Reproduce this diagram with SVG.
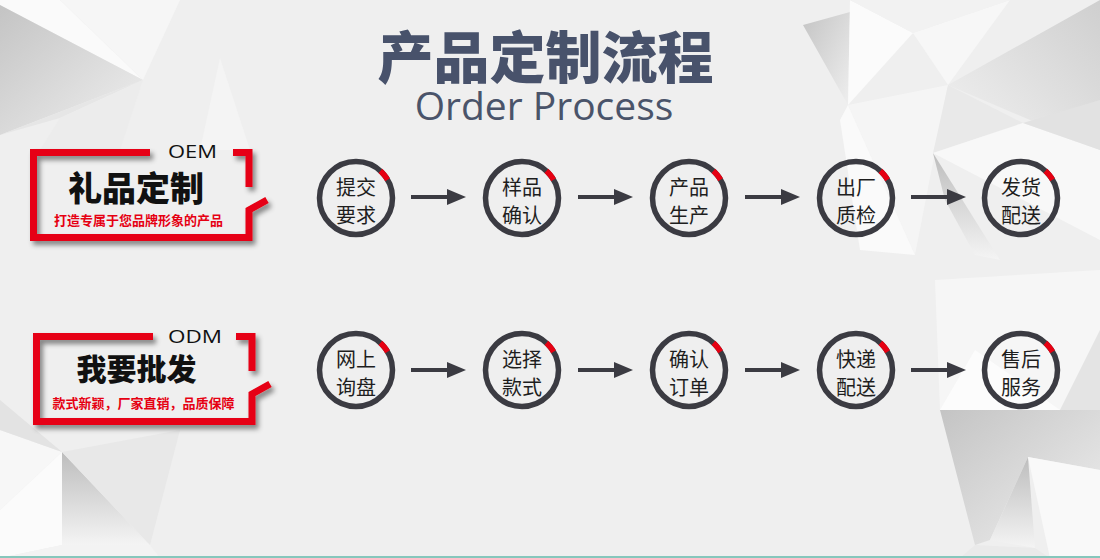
<svg xmlns="http://www.w3.org/2000/svg" width="1100" height="558" viewBox="0 0 1100 558">
<defs>
<style>
.ring{fill:none;stroke:#3b3b42;stroke-width:5.5}
.red{fill:none;stroke:#e60012;stroke-width:5.5}
.lbl{font-family:"Noto Sans CJK SC","Noto Sans",sans-serif;font-size:20px;fill:#1e1e1e;text-anchor:middle}
.frame{fill:none;stroke:#e60012;stroke-width:7;stroke-linejoin:miter}
.conn{stroke:#3b3b42;stroke-width:4;fill:none}
.sub{font-family:"Noto Sans CJK SC",sans-serif;font-size:13px;font-weight:700;fill:#e60012;text-anchor:middle}
.big{font-family:"Noto Sans CJK SC",sans-serif;font-weight:900;fill:#111;text-anchor:middle}
.tag{font-family:"Open Sans","Liberation Sans",sans-serif;fill:#111}
</style>
<marker id="ah" markerUnits="userSpaceOnUse" markerWidth="19" markerHeight="16" refX="7" refY="8" orient="auto">
<path d="M0,0 L19,8 L0,16 z" fill="#3b3b42"/>
</marker>
<filter id="sh" x="-10%" y="-10%" width="130%" height="140%">
<feDropShadow dx="3" dy="4" stdDeviation="2.5" flood-color="#000" flood-opacity="0.45"/>
</filter>
<linearGradient id="gd" x1="0" y1="0" x2="1" y2="1"><stop offset="0" stop-color="#c4c4c4"/><stop offset="1" stop-color="#efefef"/></linearGradient>
<linearGradient id="gd2" x1="1" y1="0" x2="0" y2="1"><stop offset="0" stop-color="#cfcfcf"/><stop offset="1" stop-color="#f2f2f2"/></linearGradient>
<linearGradient id="gv" x1="0" y1="0" x2="0" y2="1"><stop offset="0" stop-color="#bdbdbd"/><stop offset="1" stop-color="#f4f4f4"/></linearGradient>
<linearGradient id="gw" x1="0" y1="0" x2="1" y2="1"><stop offset="0" stop-color="#ffffff"/><stop offset="1" stop-color="#e8e8e8"/></linearGradient>
<path id="rarc" d="M24.4,-27.1 A36.5,36.5 0 0 1 31.6,-18.25"/>
</defs>

<g id="background">
<rect width="1100" height="558" fill="#efefef"/>
<!-- top-left -->
<polygon points="0,0 60,0 143,80 0,5" fill="#fafafa"/>
<polygon points="60,0 180,0 143,80" fill="#f6f6f6"/>
<polygon points="0,5 143,80 0,135" fill="url(#gd)"/>
<polygon points="0,135 143,80 60,118" fill="#e6e6e6"/>
<polygon points="60,118 143,80 120,150 40,150" fill="#ececec"/>
<polygon points="220,58 250,150 200,150" fill="#f4f4f4"/>
<!-- top-right -->
<polygon points="803,25 848,105 850,12" fill="url(#gd)"/>
<polygon points="850,0 913,33 848,105" fill="#fbfbfb"/>
<polygon points="913,33 1010,0 948,85" fill="#f7f7f7"/>
<polygon points="850,0 1010,0 913,33" fill="#f2f2f2"/>
<polygon points="948,85 1100,0 1100,150" fill="url(#gd2)"/>
<polygon points="848,105 948,85 915,255" fill="#f5f5f5"/>
<polygon points="948,85 1023,123 933,153" fill="#e9e9e9"/>
<polygon points="933,153 1023,123 1100,150 1100,240" fill="#f8f8f8"/>
<polygon points="933,153 1000,260 975,255 945,200" fill="url(#gv)"/>
<polygon points="1023,123 1100,150 1100,100" fill="#e2e2e2"/>
<polygon points="840,120 848,105 915,255 860,250" fill="#fafafa"/>
<!-- bottom-right -->
<polygon points="935,280 1100,270 1100,410 940,410" fill="#f6f6f6"/>
<polygon points="940,410 975,350 1060,410" fill="#fcfcfc"/>
<polygon points="1060,410 1100,330 1100,410" fill="#e4e4e4"/>
<polygon points="940,410 1100,410 1100,470 1028,457 990,540 975,545" fill="url(#gd)"/>
<polygon points="1028,457 990,540 1035,548" fill="url(#gv)"/>
<polygon points="1028,457 1100,470 1100,558 1050,558" fill="#f9f9f9"/>
<polygon points="975,545 1035,548 1050,558 960,558" fill="#eaeaea"/>
<!-- bottom-left -->
<polygon points="0,430 62,452 0,510" fill="#f7f7f7"/>
<polygon points="62,452 150,545 62,545" fill="url(#gv)"/>
<polygon points="62,452 0,510 0,558 62,545" fill="#fbfbfb"/>
<polygon points="62,452 180,430 150,545" fill="#e8e8e8"/>
<polygon points="62,545 150,545 160,558 0,558" fill="#f3f3f3"/>
<polygon points="0,400 62,452 0,430" fill="#e3e3e3"/>
<rect x="0" y="556" width="1100" height="2" fill="#86c7bc"/>
</g>

<g id="title">
<text x="545.5" y="78" font-family="'Noto Sans CJK SC',sans-serif" font-size="56" font-weight="900" fill="#48526b" text-anchor="middle">产品定制流程</text>
<text x="544" y="120" font-family="'Open Sans','Liberation Sans',sans-serif" font-size="39" fill="#4a546a" text-anchor="middle">Order Process</text>
</g>

<g id="oem">
<g filter="url(#sh)">
<path class="frame" d="M150,152.5 H33.5 V237.5 H249 V210 L267,200"/>
<path class="frame" d="M233,152.5 H249 V187"/>
</g>
<text class="tag" x="168" y="158" font-size="18" textLength="49" lengthAdjust="spacingAndGlyphs">OEM</text>
<text class="big" x="136" y="201" font-size="34">礼品定制</text>
<text class="sub" x="138.5" y="225">打造专属于您品牌形象的产品</text>
</g>

<g id="odm">
<g filter="url(#sh)" transform="translate(3,184)">
<path class="frame" d="M150,152.5 H33.5 V237.5 H249 V210 L267,200"/>
<path class="frame" d="M233,152.5 H249 V187"/>
</g>
<text class="tag" x="168" y="343" font-size="19" textLength="54" lengthAdjust="spacingAndGlyphs">ODM</text>
<text class="big" x="136.5" y="380" font-size="30">我要批发</text>
<text class="sub" x="143.5" y="408">款式新颖，厂家直销，品质保障</text>
</g>

<g id="n1" transform="translate(356,198)"><circle class="ring" r="36.5"/><use href="#rarc" class="red"/><text class="lbl" y="-3">提交</text><text class="lbl" y="25">要求</text></g>
<g id="n2" transform="translate(522,198)"><circle class="ring" r="36.5"/><use href="#rarc" class="red"/><text class="lbl" y="-3">样品</text><text class="lbl" y="25">确认</text></g>
<g id="n3" transform="translate(689,198)"><circle class="ring" r="36.5"/><use href="#rarc" class="red"/><text class="lbl" y="-3">产品</text><text class="lbl" y="25">生产</text></g>
<g id="n4" transform="translate(856,198)"><circle class="ring" r="36.5"/><use href="#rarc" class="red"/><text class="lbl" y="-3">出厂</text><text class="lbl" y="25">质检</text></g>
<g id="n5" transform="translate(1021,198)"><circle class="ring" r="36.5"/><use href="#rarc" class="red"/><text class="lbl" y="-3">发货</text><text class="lbl" y="25">配送</text></g>

<g id="m1" transform="translate(356,370)"><circle class="ring" r="36.5"/><use href="#rarc" class="red"/><text class="lbl" y="-3">网上</text><text class="lbl" y="25">询盘</text></g>
<g id="m2" transform="translate(522,370)"><circle class="ring" r="36.5"/><use href="#rarc" class="red"/><text class="lbl" y="-3">选择</text><text class="lbl" y="25">款式</text></g>
<g id="m3" transform="translate(689,370)"><circle class="ring" r="36.5"/><use href="#rarc" class="red"/><text class="lbl" y="-3">确认</text><text class="lbl" y="25">订单</text></g>
<g id="m4" transform="translate(856,370)"><circle class="ring" r="36.5"/><use href="#rarc" class="red"/><text class="lbl" y="-3">快递</text><text class="lbl" y="25">配送</text></g>
<g id="m5" transform="translate(1021,370)"><circle class="ring" r="36.5"/><use href="#rarc" class="red"/><text class="lbl" y="-3">售后</text><text class="lbl" y="25">服务</text></g>

<g id="connectors">
<line class="conn" x1="411" y1="197" x2="454" y2="197" marker-end="url(#ah)"/>
<line class="conn" x1="578" y1="197" x2="621" y2="197" marker-end="url(#ah)"/>
<line class="conn" x1="745" y1="197" x2="788" y2="197" marker-end="url(#ah)"/>
<line class="conn" x1="911" y1="197" x2="954" y2="197" marker-end="url(#ah)"/>
<line class="conn" x1="411" y1="370" x2="454" y2="370" marker-end="url(#ah)"/>
<line class="conn" x1="578" y1="370" x2="621" y2="370" marker-end="url(#ah)"/>
<line class="conn" x1="745" y1="370" x2="788" y2="370" marker-end="url(#ah)"/>
<line class="conn" x1="911" y1="370" x2="954" y2="370" marker-end="url(#ah)"/>
</g>
</svg>
